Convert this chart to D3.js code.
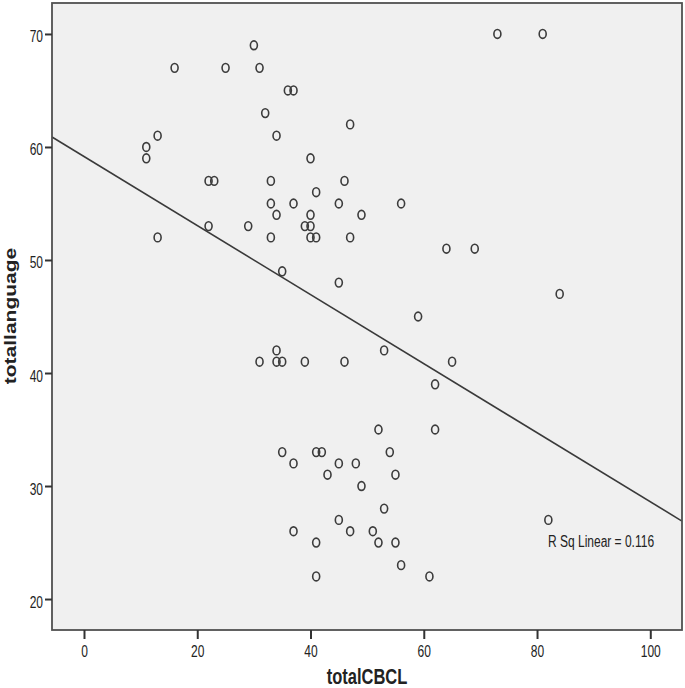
<!DOCTYPE html>
<html>
<head>
<meta charset="utf-8">
<script src="https://cdn.jsdelivr.net/npm/d3@7"></script>
<style>
  html, body { margin: 0; padding: 0; background: #ffffff; }
  svg { display: block; }
  text { font-family: Arial, "Liberation Sans", sans-serif; fill: #222; }
</style>
</head>
<body>
<script>
// ---- data ----
const totalCBCL = [73, 81, 30, 16, 25, 31, 36, 37, 32, 47, 13, 34, 11, 11, 40, 22, 23, 33, 46, 41,
  33, 37, 45, 56, 34, 40, 49, 22, 29, 39, 40, 13, 33, 40, 41, 47, 64, 69, 35, 45,
  84, 59, 34, 53, 31, 34, 35, 39, 46, 65, 62, 52, 62, 35, 41, 42, 54, 37, 45, 48,
  43, 55, 49, 53, 45, 82, 37, 47, 51, 41, 52, 55, 56, 41, 61];
const totallanguage = [70, 70, 69, 67, 67, 67, 65, 65, 63, 62, 61, 61, 60, 59, 59, 57, 57, 57, 57, 56,
  55, 55, 55, 55, 54, 54, 54, 53, 53, 53, 53, 52, 52, 52, 52, 52, 51, 51, 49, 48,
  47, 45, 42, 42, 41, 41, 41, 41, 41, 41, 39, 35, 35, 33, 33, 33, 33, 32, 32, 32,
  31, 31, 30, 28, 27, 27, 26, 26, 26, 25, 25, 25, 23, 22, 22];
const xTicks = [0, 20, 40, 60, 80, 100];
const yTicks = [20, 30, 40, 50, 60, 70];
const xDomain = [-5.65, 105.6];
const yDomain = [17.26, 72.74];
const fitIntercept = 59.16;
const fitSlope = -0.3055;
const rSqLabel = "R Sq Linear = 0.116";
const xTitle = "totalCBCL";
const yTitle = "totallanguage";

// ---- layout ----
const W = 685, H = 688;
const plot = { left: 52, top: 3, right: 682, bottom: 630 };
const SX = 0.75; // horizontal squeeze of text seen in the reference

const svg = d3.select("body").append("svg").attr("width", W).attr("height", H);

const x = d3.scaleLinear().domain(xDomain).range([plot.left, plot.right]);
const y = d3.scaleLinear().domain(yDomain).range([plot.bottom, plot.top]);

// plot background
svg.append("rect")
  .attr("x", plot.left).attr("y", plot.top)
  .attr("width", plot.right - plot.left).attr("height", plot.bottom - plot.top)
  .attr("fill", "#f0f0f0");

svg.append("clipPath").attr("id", "clip").append("rect")
  .attr("x", plot.left).attr("y", plot.top)
  .attr("width", plot.right - plot.left).attr("height", plot.bottom - plot.top);

// regression line
const fitPts = xDomain.map(v => [v, fitIntercept + fitSlope * v]);
svg.append("path")
  .attr("clip-path", "url(#clip)")
  .attr("d", d3.line().x(d => x(d[0])).y(d => y(d[1]))(fitPts))
  .attr("fill", "none").attr("stroke", "#3a3a3a").attr("stroke-width", 1.6);

// points
const pts = totalCBCL.map((v, i) => ({ cx: v, ly: totallanguage[i] }));
svg.append("g").selectAll("ellipse").data(pts).join("ellipse")
  .attr("cx", d => x(d.cx)).attr("cy", d => y(d.ly))
  .attr("rx", 3.5).attr("ry", 4.4)
  .attr("fill", "none").attr("stroke", "#3c3c3c").attr("stroke-width", 1.6);

// frame
svg.append("rect")
  .attr("x", plot.left).attr("y", plot.top)
  .attr("width", plot.right - plot.left).attr("height", plot.bottom - plot.top)
  .attr("fill", "none").attr("stroke", "#505050").attr("stroke-width", 1.8);

// y axis
const gy = svg.append("g").attr("transform", `translate(${plot.left},0)`)
  .call(d3.axisLeft(y).tickValues(yTicks).tickSize(7).tickFormat(d3.format("d")));
gy.select(".domain").remove();
gy.selectAll(".tick line").attr("stroke", "#333").attr("stroke-width", 2);
gy.selectAll(".tick text")
  .attr("x", 0).attr("dy", null).attr("y", 0)
  .attr("font-size", 16).attr("font-family", "Arial, 'Liberation Sans', sans-serif")
  .attr("fill", "#222").attr("text-anchor", "end")
  .attr("transform", `translate(-9,8) scale(${SX},1)`);

// x axis
const gx = svg.append("g").attr("transform", `translate(0,${plot.bottom})`)
  .call(d3.axisBottom(x).tickValues(xTicks).tickSize(9).tickFormat(d3.format("d")));
gx.select(".domain").remove();
gx.selectAll(".tick line").attr("stroke", "#333").attr("stroke-width", 2);
gx.selectAll(".tick text")
  .attr("y", 0).attr("dy", null)
  .attr("font-size", 16).attr("font-family", "Arial, 'Liberation Sans', sans-serif")
  .attr("fill", "#222").attr("text-anchor", "middle")
  .attr("transform", `translate(0,26.5) scale(${SX},1)`);

// R squared label
svg.append("text")
  .attr("transform", `translate(548,547) scale(${SX},1)`)
  .attr("font-size", 16).attr("text-anchor", "start")
  .text(rSqLabel);

// axis titles
svg.append("text")
  .attr("transform", `translate(367,684) scale(${SX},1)`)
  .attr("font-size", 22).attr("font-weight", "bold").attr("text-anchor", "middle")
  .attr("fill", "#111")
  .text(xTitle);

svg.append("text")
  .attr("transform", `translate(15.5,316) rotate(-90) scale(1,${SX})`)
  .attr("font-size", 21).attr("font-weight", "bold").attr("text-anchor", "middle")
  .attr("fill", "#111")
  .text(yTitle);
</script>
</body>
</html>
